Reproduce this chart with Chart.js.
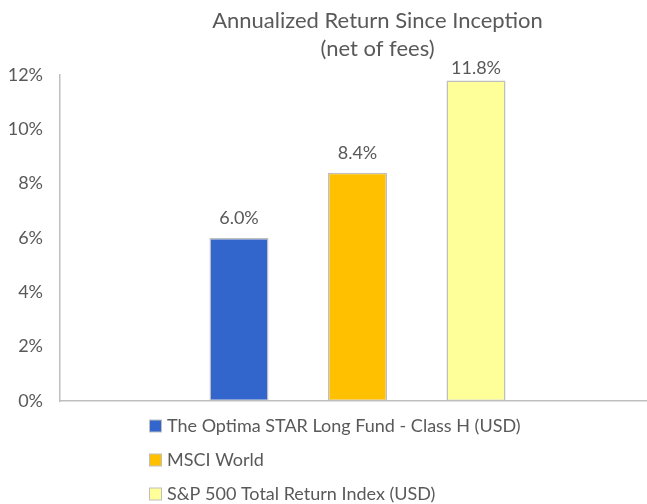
<!DOCTYPE html>
<html lang="en">
<head>
<meta charset="UTF-8">
<title>Annualized Return Since Inception</title>
<script src="https://cdn.jsdelivr.net/npm/chart.js"></script>
<style>
    html, body { margin: 0; padding: 0; background: #ffffff; overflow: hidden; }
    /* the plot area runs a few px past the right edge, as in the original */
    #wrap { width: 647px; height: 504px; position: relative; overflow: hidden; }
</style>
</head>
<body>
<div id="wrap"><canvas id="returnChart" width="656" height="504"></canvas></div>
<script>
// DATA
const titleLines = ['Annualized Return Since Inception', '(net of fees)'];
const seriesNames = [
    'The Optima STAR Long Fund - Class H (USD)',
    'MSCI World',
    'S&P 500 Total Return Index (USD)'
];
const seriesValues = [6.0, 8.4, 11.8];
const seriesColors = ['#3366CC', '#FFC000', '#FFFF99'];
const yTicks = [0, 2, 4, 6, 8, 10, 12];

const TEXT = '#595959';
const AXIS = '#BFBFBF';
const FONT = 'Lato, "Open Sans", sans-serif';

// title, value labels and a stacked legend, drawn like the Excel original
const decorations = {
    id: 'decorations',
    afterDatasetsDraw(chart) {
        const ctx = chart.ctx;
        const area = chart.chartArea;
        ctx.save();
        ctx.fillStyle = TEXT;
        ctx.textAlign = 'center';
        ctx.textBaseline = 'middle';

        // value labels
        ctx.font = '18px ' + FONT;
        chart.data.datasets.forEach((ds, i) => {
            const bar = chart.getDatasetMeta(i).data[0];
            const y = Math.max(bar.y - 20, area.top - 7);
            ctx.fillText(ds.data[0].toFixed(1) + '%', bar.x, y);
        });

        // title
        ctx.font = '22px ' + FONT;
        titleLines.forEach((line, i) => ctx.fillText(line, 377.5, 21 + i * 28));

        // legend
        ctx.textAlign = 'left';
        ctx.font = '18px ' + FONT;
        chart.data.datasets.forEach((ds, i) => {
            const cy = 426 + i * 34;
            ctx.fillStyle = ds.backgroundColor;
            ctx.fillRect(149.5, cy - 6, 12, 12);
            ctx.strokeStyle = AXIS;
            ctx.lineWidth = 1;
            ctx.strokeRect(149.5, cy - 6, 12, 12);
            ctx.fillStyle = TEXT;
            ctx.fillText(ds.label, 167, cy);
        });
        ctx.restore();
    }
};

new Chart(document.getElementById('returnChart'), {
    type: 'bar',
    data: {
        labels: [''],
        datasets: seriesNames.map((name, i) => ({
            label: name,
            data: [seriesValues[i]],
            backgroundColor: seriesColors[i],
            borderColor: AXIS,
            borderWidth: 1.5,
            borderSkipped: false
        }))
    },
    options: {
        responsive: false,
        animation: false,
        devicePixelRatio: 1,
        categoryPercentage: 0.5975,
        barPercentage: 0.498,
        layout: { padding: { left: 0, top: 75, right: 1, bottom: 103 } },
        scales: {
            x: {
                ticks: { display: false },
                grid: { display: false, drawTicks: false },
                border: { display: true, color: AXIS, width: 1.5 }
            },
            y: {
                min: 0,
                max: 12,
                afterBuildTicks: s => { s.ticks = yTicks.map(v => ({ value: v })); },
                afterFit: s => { s.width = 60; },
                ticks: {
                    padding: 17,
                    color: TEXT,
                    font: { family: FONT, size: 18 },
                    callback: v => v + '%'
                },
                grid: { display: false, drawTicks: false },
                border: { display: true, color: AXIS, width: 1.5 }
            }
        },
        plugins: {
            legend: { display: false },
            title: { display: false },
            tooltip: { enabled: false }
        }
    },
    plugins: [decorations]
});
</script>
</body>
</html>
